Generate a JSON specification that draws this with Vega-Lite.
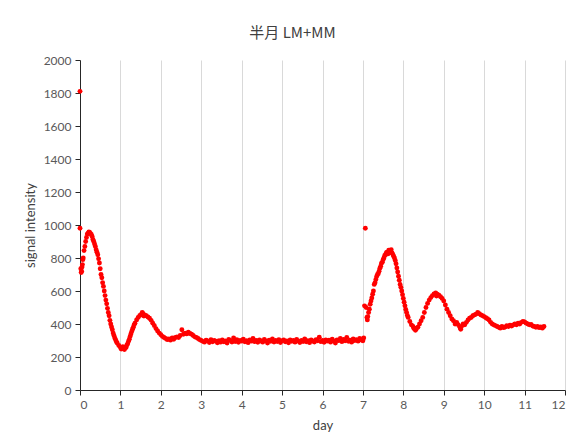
{
  "$schema": "https://vega.github.io/schema/vega-lite/v6.json",
  "width": 485,
  "height": 330,
  "autosize": {"type": "none"},
  "padding": {"left": 80, "top": 60, "right": 17, "bottom": 55},
  "background": "white",
  "title": {"text": "半月 LM+MM", "font": "Noto Sans CJK SC", "fontSize": 15, "fontWeight": "normal", "color": "#404040", "anchor": "middle", "dx": -30, "offset": 13},
  "config": {"view": {"stroke": null}},
  "data": {"values": [
    {"d":0.00,"v":1810},{"d":0.00,"v":980},{"d":0.02,"v":735},{"d":0.03,"v":712},{"d":0.04,"v":720},{"d":0.05,"v":745},{"d":0.06,"v":760},{"d":0.07,"v":790},{"d":0.08,"v":800},{"d":0.10,"v":845},{"d":0.12,"v":870},{"d":0.14,"v":900},{"d":0.16,"v":925},{"d":0.18,"v":945},{"d":0.20,"v":950},{"d":0.22,"v":958},{"d":0.24,"v":955},{"d":0.26,"v":948},{"d":0.28,"v":942},{"d":0.30,"v":930},{"d":0.32,"v":912},{"d":0.34,"v":900},{"d":0.36,"v":885},{"d":0.38,"v":870},{"d":0.40,"v":850},{"d":0.42,"v":835},{"d":0.44,"v":820},{"d":0.46,"v":795},{"d":0.48,"v":770},{"d":0.50,"v":735},{"d":0.52,"v":700},{"d":0.54,"v":680},{"d":0.56,"v":650},{"d":0.58,"v":628},{"d":0.60,"v":600},{"d":0.62,"v":572},{"d":0.64,"v":545},{"d":0.66,"v":522},{"d":0.68,"v":495},{"d":0.70,"v":470},{"d":0.72,"v":450},{"d":0.74,"v":422},{"d":0.76,"v":400},{"d":0.78,"v":382},{"d":0.80,"v":365},{"d":0.82,"v":345},{"d":0.84,"v":330},{"d":0.86,"v":315},{"d":0.88,"v":305},{"d":0.90,"v":292},{"d":0.92,"v":285},{"d":0.96,"v":270},{"d":1.00,"v":258},{"d":1.02,"v":248},{"d":1.04,"v":252},{"d":1.06,"v":262},{"d":1.08,"v":250},{"d":1.10,"v":245},{"d":1.12,"v":260},{"d":1.14,"v":258},{"d":1.16,"v":272},{"d":1.18,"v":280},{"d":1.20,"v":295},{"d":1.22,"v":308},{"d":1.24,"v":325},{"d":1.26,"v":340},{"d":1.28,"v":355},{"d":1.30,"v":368},{"d":1.32,"v":380},{"d":1.34,"v":395},{"d":1.36,"v":405},{"d":1.40,"v":425},{"d":1.44,"v":440},{"d":1.48,"v":452},{"d":1.52,"v":458},{"d":1.54,"v":470},{"d":1.56,"v":462},{"d":1.58,"v":448},{"d":1.60,"v":455},{"d":1.64,"v":450},{"d":1.68,"v":442},{"d":1.72,"v":435},{"d":1.76,"v":422},{"d":1.80,"v":405},{"d":1.84,"v":390},{"d":1.88,"v":372},{"d":1.92,"v":358},{"d":1.96,"v":345},{"d":2.00,"v":335},{"d":2.04,"v":325},{"d":2.08,"v":318},{"d":2.12,"v":312},{"d":2.16,"v":305},{"d":2.20,"v":310},{"d":2.24,"v":302},{"d":2.28,"v":315},{"d":2.32,"v":308},{"d":2.36,"v":318},{"d":2.40,"v":322},{"d":2.44,"v":318},{"d":2.48,"v":330},{"d":2.52,"v":365},{"d":2.56,"v":338},{"d":2.60,"v":345},{"d":2.64,"v":340},{"d":2.68,"v":350},{"d":2.72,"v":342},{"d":2.76,"v":338},{"d":2.80,"v":330},{"d":2.84,"v":322},{"d":2.88,"v":318},{"d":2.92,"v":312},{"d":2.96,"v":305},{"d":3.00,"v":300},
    {"d":3.04,"v":295},{"d":3.08,"v":290},{"d":3.12,"v":302},{"d":3.16,"v":298},{"d":3.20,"v":288},{"d":3.24,"v":305},{"d":3.28,"v":292},{"d":3.32,"v":300},{"d":3.36,"v":296},{"d":3.40,"v":286},{"d":3.44,"v":299},{"d":3.48,"v":290},{"d":3.52,"v":303},{"d":3.56,"v":292},{"d":3.60,"v":297},{"d":3.64,"v":285},{"d":3.68,"v":306},{"d":3.72,"v":300},{"d":3.76,"v":291},{"d":3.80,"v":315},{"d":3.84,"v":294},{"d":3.88,"v":305},{"d":3.92,"v":289},{"d":3.96,"v":300},{"d":4.00,"v":296},{"d":4.04,"v":308},{"d":4.08,"v":292},{"d":4.12,"v":299},{"d":4.16,"v":287},{"d":4.20,"v":303},{"d":4.24,"v":296},{"d":4.28,"v":312},{"d":4.32,"v":293},{"d":4.36,"v":301},{"d":4.40,"v":289},{"d":4.44,"v":304},{"d":4.48,"v":297},{"d":4.52,"v":290},{"d":4.56,"v":306},{"d":4.60,"v":298},{"d":4.64,"v":285},{"d":4.68,"v":302},{"d":4.72,"v":295},{"d":4.76,"v":309},{"d":4.80,"v":291},{"d":4.84,"v":300},{"d":4.88,"v":294},{"d":4.92,"v":305},{"d":4.96,"v":288},{"d":5.00,"v":299},
    {"d":5.04,"v":303},{"d":5.08,"v":292},{"d":5.12,"v":298},{"d":5.16,"v":286},{"d":5.20,"v":304},{"d":5.24,"v":295},{"d":5.28,"v":300},{"d":5.32,"v":290},{"d":5.36,"v":307},{"d":5.40,"v":296},{"d":5.44,"v":288},{"d":5.48,"v":301},{"d":5.52,"v":294},{"d":5.56,"v":310},{"d":5.60,"v":292},{"d":5.64,"v":299},{"d":5.68,"v":287},{"d":5.72,"v":303},{"d":5.76,"v":297},{"d":5.80,"v":291},{"d":5.84,"v":305},{"d":5.88,"v":298},{"d":5.92,"v":320},{"d":5.96,"v":293},{"d":6.00,"v":300},{"d":6.04,"v":289},{"d":6.08,"v":304},{"d":6.12,"v":296},{"d":6.16,"v":302},{"d":6.20,"v":290},{"d":6.24,"v":308},{"d":6.28,"v":297},{"d":6.32,"v":285},{"d":6.36,"v":303},{"d":6.40,"v":299},{"d":6.44,"v":312},{"d":6.48,"v":293},{"d":6.52,"v":306},{"d":6.56,"v":298},{"d":6.60,"v":318},{"d":6.64,"v":295},{"d":6.68,"v":302},{"d":6.72,"v":290},{"d":6.76,"v":310},{"d":6.80,"v":300},{"d":6.84,"v":305},{"d":6.88,"v":296},{"d":6.92,"v":312},{"d":6.96,"v":303},{"d":7.00,"v":298},
    {"d":7.02,"v":315},{"d":7.04,"v":510},{"d":7.06,"v":980},{"d":7.08,"v":500},{"d":7.10,"v":440},{"d":7.11,"v":425},{"d":7.12,"v":445},{"d":7.14,"v":470},{"d":7.16,"v":490},{"d":7.18,"v":520},{"d":7.20,"v":540},{"d":7.22,"v":558},{"d":7.24,"v":580},{"d":7.26,"v":600},{"d":7.28,"v":640},{"d":7.30,"v":650},{"d":7.32,"v":670},{"d":7.34,"v":688},{"d":7.36,"v":700},{"d":7.38,"v":705},{"d":7.40,"v":720},{"d":7.42,"v":738},{"d":7.44,"v":750},{"d":7.46,"v":768},{"d":7.48,"v":775},{"d":7.50,"v":790},{"d":7.52,"v":800},{"d":7.54,"v":815},{"d":7.56,"v":820},{"d":7.58,"v":832},{"d":7.60,"v":835},{"d":7.62,"v":825},{"d":7.64,"v":848},{"d":7.66,"v":838},{"d":7.68,"v":845},{"d":7.70,"v":850},{"d":7.72,"v":830},{"d":7.74,"v":822},{"d":7.76,"v":810},{"d":7.78,"v":800},{"d":7.80,"v":785},{"d":7.82,"v":765},{"d":7.84,"v":740},{"d":7.86,"v":715},{"d":7.88,"v":690},{"d":7.90,"v":665},{"d":7.92,"v":640},{"d":7.94,"v":622},{"d":7.96,"v":600},{"d":7.98,"v":578},{"d":8.00,"v":555},{"d":8.02,"v":532},{"d":8.04,"v":510},{"d":8.06,"v":488},{"d":8.08,"v":470},{"d":8.10,"v":452},{"d":8.12,"v":440},{"d":8.16,"v":415},{"d":8.20,"v":395},{"d":8.24,"v":385},{"d":8.26,"v":372},{"d":8.28,"v":375},{"d":8.30,"v":362},{"d":8.32,"v":370},{"d":8.36,"v":380},{"d":8.40,"v":400},{"d":8.44,"v":420},{"d":8.48,"v":440},{"d":8.52,"v":470},{"d":8.56,"v":500},{"d":8.60,"v":525},{"d":8.64,"v":545},{"d":8.68,"v":560},{"d":8.72,"v":572},{"d":8.76,"v":582},{"d":8.80,"v":588},{"d":8.82,"v":570},{"d":8.84,"v":580},{"d":8.88,"v":575},{"d":8.92,"v":565},{"d":8.96,"v":555},{"d":9.00,"v":540},{"d":9.04,"v":515},{"d":9.08,"v":490},{"d":9.12,"v":470},{"d":9.16,"v":450},{"d":9.20,"v":430},{"d":9.24,"v":420},{"d":9.28,"v":400},{"d":9.32,"v":410},{"d":9.36,"v":395},{"d":9.40,"v":380},{"d":9.42,"v":368},{"d":9.44,"v":385},{"d":9.48,"v":400},{"d":9.52,"v":395},{"d":9.56,"v":410},{"d":9.60,"v":425},{"d":9.64,"v":435},{"d":9.68,"v":440},{"d":9.72,"v":450},{"d":9.76,"v":455},{"d":9.80,"v":460},{"d":9.84,"v":470},{"d":9.88,"v":462},{"d":9.92,"v":455},{"d":9.96,"v":450},{"d":10.00,"v":445},{"d":10.04,"v":438},{"d":10.08,"v":432},{"d":10.12,"v":425},{"d":10.16,"v":410},{"d":10.20,"v":400},{"d":10.24,"v":395},{"d":10.28,"v":390},{"d":10.32,"v":385},{"d":10.36,"v":380},{"d":10.40,"v":375},{"d":10.44,"v":385},{"d":10.48,"v":378},{"d":10.52,"v":382},{"d":10.56,"v":390},{"d":10.60,"v":385},{"d":10.64,"v":392},{"d":10.68,"v":388},{"d":10.72,"v":395},{"d":10.76,"v":400},{"d":10.80,"v":395},{"d":10.84,"v":405},{"d":10.88,"v":400},{"d":10.92,"v":410},{"d":10.96,"v":415},{"d":11.00,"v":412},{"d":11.04,"v":405},{"d":11.08,"v":400},{"d":11.12,"v":395},{"d":11.16,"v":398},{"d":11.20,"v":388},{"d":11.24,"v":385},{"d":11.28,"v":380},{"d":11.32,"v":385},{"d":11.36,"v":378},{"d":11.40,"v":382},{"d":11.44,"v":375},{"d":11.48,"v":385}
  ]},
  "mark": {"type": "circle", "color": "#ff0000", "opacity": 1, "size": 24},
  "encoding": {
    "x": {
      "field": "d", "type": "quantitative",
      "scale": {"domain": [0, 12], "nice": false, "zero": true},
      "axis": {
        "title": "day", "values": [0,1,2,3,4,5,6,7,8,9,10,11,12], "format": "d",
        "grid": true, "gridColor": "#d9d9d9", "gridWidth": 1,
        "domainColor": "#262626", "tickColor": "#262626", "tickSize": 5,
        "labelFont": "Lato", "labelFontSize": 12, "labelColor": "#595959", "labelPadding": 4,
        "titleFont": "Lato", "titleFontSize": 13, "titleFontWeight": "normal", "titleColor": "#404040", "titlePadding": 9
      }
    },
    "y": {
      "field": "v", "type": "quantitative",
      "scale": {"domain": [0, 2000], "nice": false},
      "axis": {
        "title": "signal intensity", "values": [0,200,400,600,800,1000,1200,1400,1600,1800,2000], "format": "d",
        "grid": false,
        "domainColor": "#262626", "tickColor": "#262626", "tickSize": 5,
        "labelFont": "Lato", "labelFontSize": 12, "labelColor": "#595959", "labelPadding": 4,
        "titleFont": "Lato", "titleFontSize": 13, "titleFontWeight": "normal", "titleColor": "#404040", "titlePadding": 6
      }
    }
  }
}
